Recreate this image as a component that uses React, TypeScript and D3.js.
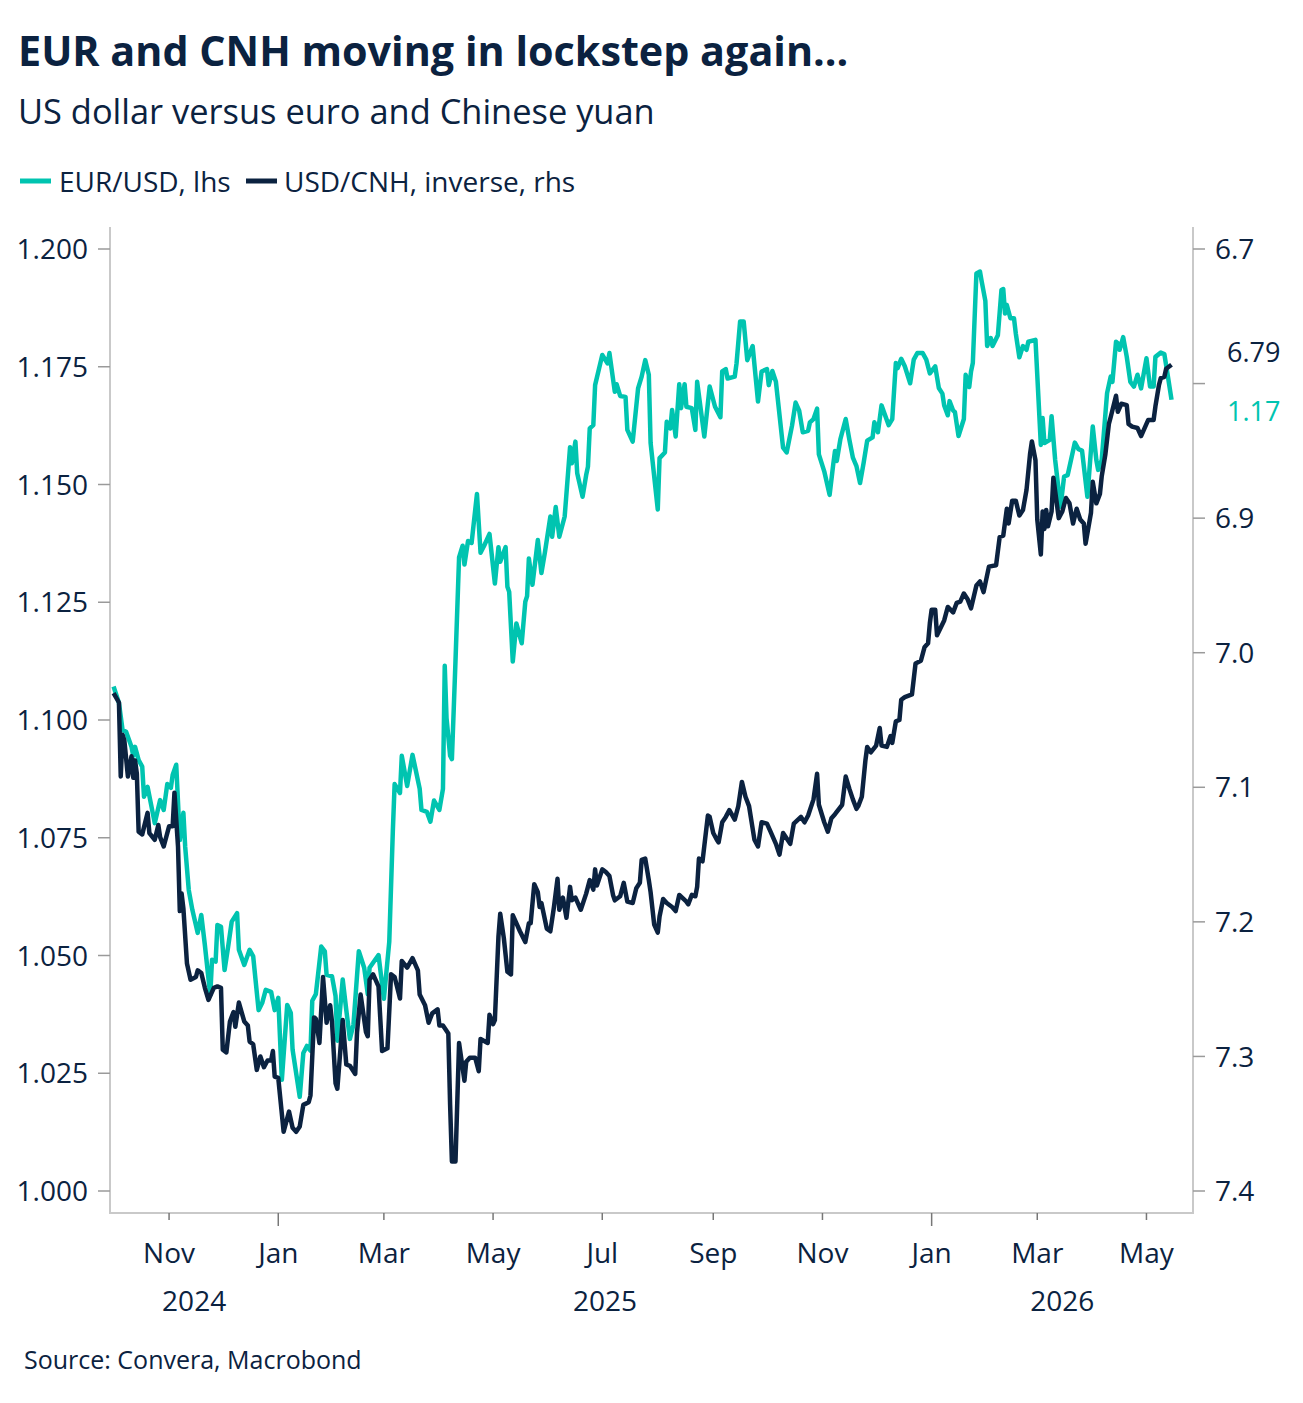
import React from "react";
import * as d3 from "d3";

const W = 1303;
const H = 1403;

const navy = "#0b2240";
const teal = "#00c4b0";
const grey = "#c9c9c9";
const font = "'Open Sans', 'Noto Sans', sans-serif";

const title = "EUR and CNH moving in lockstep again...";
const subtitle = "US dollar versus euro and Chinese yuan";
const legendLabels = ["EUR/USD, lhs", "USD/CNH, inverse, rhs"];
const source = "Source: Convera, Macrobond";

const leftTicks = [1.0, 1.025, 1.05, 1.075, 1.1, 1.125, 1.15, 1.175, 1.2];
const rightTicks = [6.7, 6.8, 6.9, 7.0, 7.1, 7.2, 7.3, 7.4];
const monthTicks = [
  "2024-11-01", "2025-01-01", "2025-03-01", "2025-05-01", "2025-07-01",
  "2025-09-01", "2025-11-01", "2026-01-01", "2026-03-01", "2026-05-01",
];
const years = [2024, 2025, 2026];

// EUR/USD, left axis
const eurusd: [string, number][] = [
  ["2024-10-01", 1.1071], ["2024-10-04", 1.1036], ["2024-10-06", 1.0979], ["2024-10-08", 1.0975],
  ["2024-10-11", 1.0943], ["2024-10-12", 1.0924], ["2024-10-13", 1.0943], ["2024-10-15", 1.0915],
  ["2024-10-17", 1.0901], ["2024-10-18", 1.0837], ["2024-10-20", 1.0858], ["2024-10-24", 1.0781],
  ["2024-10-27", 1.083], ["2024-10-29", 1.0809], ["2024-10-31", 1.0864], ["2024-11-02", 1.0856],
  ["2024-11-03", 1.0883], ["2024-11-05", 1.0905], ["2024-11-07", 1.0745], ["2024-11-09", 1.0803],
  ["2024-11-10", 1.0731], ["2024-11-12", 1.0639], ["2024-11-14", 1.0597], ["2024-11-17", 1.0548],
  ["2024-11-19", 1.0586], ["2024-11-21", 1.0522], ["2024-11-24", 1.0416], ["2024-11-25", 1.0491],
  ["2024-11-27", 1.0487], ["2024-11-28", 1.0565], ["2024-11-30", 1.0561], ["2024-12-02", 1.0469],
  ["2024-12-04", 1.0519], ["2024-12-06", 1.0572], ["2024-12-09", 1.059], ["2024-12-10", 1.0512],
  ["2024-12-13", 1.048], ["2024-12-16", 1.0512], ["2024-12-18", 1.0498], ["2024-12-21", 1.0384],
  ["2024-12-23", 1.0399], ["2024-12-25", 1.0427], ["2024-12-28", 1.0423], ["2024-12-30", 1.0384],
  ["2025-01-01", 1.041], ["2025-01-03", 1.0236], ["2025-01-06", 1.0395], ["2025-01-08", 1.0378],
  ["2025-01-09", 1.03], ["2025-01-13", 1.02], ["2025-01-15", 1.0293], ["2025-01-17", 1.0308],
  ["2025-01-19", 1.0298], ["2025-01-20", 1.0404], ["2025-01-22", 1.0418], ["2025-01-25", 1.0519],
  ["2025-01-27", 1.0509], ["2025-01-28", 1.0459], ["2025-01-31", 1.0456], ["2025-02-02", 1.0414],
  ["2025-02-03", 1.0319], ["2025-02-06", 1.0449], ["2025-02-08", 1.0384], ["2025-02-10", 1.0323],
  ["2025-02-12", 1.0353], ["2025-02-15", 1.0509], ["2025-02-18", 1.0474], ["2025-02-20", 1.0418],
  ["2025-02-21", 1.0474], ["2025-02-26", 1.0501], ["2025-03-01", 1.0408], ["2025-03-04", 1.0529],
  ["2025-03-06", 1.0764], ["2025-03-07", 1.0864], ["2025-03-10", 1.0845], ["2025-03-11", 1.0924],
  ["2025-03-14", 1.086], ["2025-03-17", 1.0926], ["2025-03-21", 1.0854], ["2025-03-22", 1.0809],
  ["2025-03-25", 1.0805], ["2025-03-27", 1.0784], ["2025-03-29", 1.0829], ["2025-04-01", 1.0809],
  ["2025-04-03", 1.0854], ["2025-04-04", 1.1115], ["2025-04-05", 1.1004], ["2025-04-07", 1.0924],
  ["2025-04-08", 1.0917], ["2025-04-10", 1.1125], ["2025-04-12", 1.1345], ["2025-04-14", 1.137],
  ["2025-04-15", 1.133], ["2025-04-17", 1.138], ["2025-04-19", 1.1376], ["2025-04-22", 1.148],
  ["2025-04-24", 1.1355], ["2025-04-26", 1.137], ["2025-04-29", 1.1395], ["2025-05-02", 1.129],
  ["2025-05-04", 1.1367], ["2025-05-05", 1.1336], ["2025-05-08", 1.1367], ["2025-05-09", 1.1283],
  ["2025-05-10", 1.1272], ["2025-05-12", 1.1124], ["2025-05-14", 1.1205], ["2025-05-17", 1.1163],
  ["2025-05-19", 1.1251], ["2025-05-20", 1.1263], ["2025-05-21", 1.1343], ["2025-05-23", 1.1287],
  ["2025-05-26", 1.1382], ["2025-05-28", 1.1312], ["2025-05-30", 1.1357], ["2025-06-02", 1.1432],
  ["2025-06-03", 1.1389], ["2025-06-05", 1.1452], ["2025-06-07", 1.1389], ["2025-06-10", 1.1432],
  ["2025-06-13", 1.1579], ["2025-06-14", 1.1545], ["2025-06-16", 1.1591], ["2025-06-17", 1.1524],
  ["2025-06-20", 1.1474], ["2025-06-22", 1.152], ["2025-06-23", 1.1538], ["2025-06-24", 1.1619],
  ["2025-06-26", 1.1626], ["2025-06-27", 1.1711], ["2025-07-01", 1.1775], ["2025-07-04", 1.1757],
  ["2025-07-05", 1.1779], ["2025-07-08", 1.1697], ["2025-07-09", 1.1713], ["2025-07-11", 1.1688],
  ["2025-07-14", 1.1686], ["2025-07-15", 1.1616], ["2025-07-18", 1.1591], ["2025-07-21", 1.1704],
  ["2025-07-23", 1.1729], ["2025-07-25", 1.1764], ["2025-07-27", 1.1733], ["2025-07-28", 1.1588],
  ["2025-08-01", 1.1447], ["2025-08-02", 1.1556], ["2025-08-05", 1.1568], ["2025-08-06", 1.1633],
  ["2025-08-08", 1.1619], ["2025-08-09", 1.1658], ["2025-08-11", 1.1602], ["2025-08-13", 1.1713],
  ["2025-08-14", 1.1662], ["2025-08-16", 1.1713], ["2025-08-17", 1.1665], ["2025-08-20", 1.1662],
  ["2025-08-22", 1.1616], ["2025-08-23", 1.1718], ["2025-08-27", 1.1602], ["2025-08-30", 1.1708],
  ["2025-09-02", 1.1665], ["2025-09-05", 1.1643], ["2025-09-06", 1.174], ["2025-09-08", 1.1745],
  ["2025-09-09", 1.1725], ["2025-09-13", 1.1729], ["2025-09-14", 1.1757], ["2025-09-16", 1.1846],
  ["2025-09-18", 1.1846], ["2025-09-20", 1.1764], ["2025-09-23", 1.1794], ["2025-09-26", 1.1676],
  ["2025-09-28", 1.174], ["2025-10-01", 1.1745], ["2025-10-02", 1.1711], ["2025-10-04", 1.1741],
  ["2025-10-06", 1.1718], ["2025-10-10", 1.1578], ["2025-10-12", 1.1568], ["2025-10-15", 1.1625],
  ["2025-10-17", 1.1674], ["2025-10-19", 1.1657], ["2025-10-21", 1.1611], ["2025-10-24", 1.1614],
  ["2025-10-25", 1.1632], ["2025-10-27", 1.1639], ["2025-10-29", 1.1661], ["2025-10-30", 1.1564],
  ["2025-11-02", 1.1528], ["2025-11-05", 1.1478], ["2025-11-07", 1.1542], ["2025-11-08", 1.1571],
  ["2025-11-09", 1.155], ["2025-11-11", 1.1596], ["2025-11-14", 1.1639], ["2025-11-16", 1.1596],
  ["2025-11-18", 1.1557], ["2025-11-20", 1.1539], ["2025-11-22", 1.1503], ["2025-11-24", 1.1546],
  ["2025-11-26", 1.1593], ["2025-11-29", 1.16], ["2025-11-30", 1.1632], ["2025-12-02", 1.1611],
  ["2025-12-04", 1.1668], ["2025-12-08", 1.1626], ["2025-12-10", 1.1639], ["2025-12-12", 1.1758],
  ["2025-12-13", 1.1747], ["2025-12-15", 1.1767], ["2025-12-17", 1.1751], ["2025-12-20", 1.1715],
  ["2025-12-22", 1.1765], ["2025-12-24", 1.1779], ["2025-12-27", 1.1779], ["2025-12-29", 1.1765],
  ["2025-12-31", 1.1736], ["2026-01-03", 1.1751], ["2026-01-05", 1.1705], ["2026-01-07", 1.1693],
  ["2026-01-08", 1.1668], ["2026-01-10", 1.1647], ["2026-01-11", 1.1677], ["2026-01-13", 1.1657],
  ["2026-01-14", 1.1654], ["2026-01-16", 1.1603], ["2026-01-19", 1.1639], ["2026-01-20", 1.1733],
  ["2026-01-22", 1.1707], ["2026-01-23", 1.174], ["2026-01-24", 1.1758], ["2026-01-26", 1.1948],
  ["2026-01-28", 1.1952], ["2026-01-29", 1.193], ["2026-01-31", 1.189], ["2026-02-01", 1.1794],
  ["2026-02-03", 1.1811], ["2026-02-04", 1.1794], ["2026-02-07", 1.1817], ["2026-02-09", 1.1913],
  ["2026-02-10", 1.1915], ["2026-02-11", 1.1863], ["2026-02-12", 1.1881], ["2026-02-14", 1.1853],
  ["2026-02-16", 1.1853], ["2026-02-17", 1.1821], ["2026-02-19", 1.177], ["2026-02-21", 1.1794],
  ["2026-02-23", 1.1786], ["2026-02-24", 1.1803], ["2026-02-28", 1.1807], ["2026-03-03", 1.1584],
  ["2026-03-04", 1.1641], ["2026-03-05", 1.1588], ["2026-03-08", 1.1595], ["2026-03-09", 1.1645],
  ["2026-03-11", 1.1552], ["2026-03-14", 1.1453], ["2026-03-16", 1.1517], ["2026-03-18", 1.152],
  ["2026-03-22", 1.1589], ["2026-03-24", 1.1575], ["2026-03-26", 1.1572], ["2026-03-29", 1.1474],
  ["2026-04-01", 1.1623], ["2026-04-03", 1.1552], ["2026-04-04", 1.1531], ["2026-04-06", 1.1552],
  ["2026-04-09", 1.1694], ["2026-04-11", 1.1729], ["2026-04-12", 1.1718], ["2026-04-14", 1.1803],
  ["2026-04-15", 1.18], ["2026-04-16", 1.1786], ["2026-04-18", 1.1813], ["2026-04-20", 1.1771],
  ["2026-04-22", 1.1718], ["2026-04-24", 1.1708], ["2026-04-26", 1.1733], ["2026-04-28", 1.1704],
  ["2026-05-01", 1.1768], ["2026-05-03", 1.1708], ["2026-05-05", 1.1708], ["2026-05-06", 1.1771],
  ["2026-05-09", 1.178], ["2026-05-11", 1.1777], ["2026-05-13", 1.1729], ["2026-05-15", 1.168],
];

// USD/CNH, right axis (inverted)
const usdcnh: [string, number][] = [
  ["2024-10-01", 7.03], ["2024-10-04", 7.037], ["2024-10-05", 7.092], ["2024-10-06", 7.061],
  ["2024-10-07", 7.065], ["2024-10-09", 7.092], ["2024-10-11", 7.077], ["2024-10-12", 7.093],
  ["2024-10-13", 7.08], ["2024-10-14", 7.09], ["2024-10-15", 7.133], ["2024-10-17", 7.135],
  ["2024-10-20", 7.119], ["2024-10-21", 7.134], ["2024-10-24", 7.139], ["2024-10-26", 7.128],
  ["2024-10-27", 7.137], ["2024-10-29", 7.144], ["2024-11-01", 7.129], ["2024-11-03", 7.129],
  ["2024-11-04", 7.104], ["2024-11-06", 7.144], ["2024-11-07", 7.192], ["2024-11-08", 7.179],
  ["2024-11-09", 7.19], ["2024-11-11", 7.231], ["2024-11-13", 7.243], ["2024-11-16", 7.241],
  ["2024-11-17", 7.236], ["2024-11-19", 7.238], ["2024-11-21", 7.249], ["2024-11-23", 7.258],
  ["2024-11-26", 7.249], ["2024-11-28", 7.248], ["2024-11-30", 7.249], ["2024-12-01", 7.295],
  ["2024-12-03", 7.297], ["2024-12-05", 7.274], ["2024-12-07", 7.267], ["2024-12-08", 7.278],
  ["2024-12-10", 7.26], ["2024-12-13", 7.274], ["2024-12-15", 7.277], ["2024-12-16", 7.289],
  ["2024-12-18", 7.291], ["2024-12-20", 7.31], ["2024-12-22", 7.3], ["2024-12-24", 7.308],
  ["2024-12-26", 7.303], ["2024-12-28", 7.303], ["2024-12-29", 7.296], ["2024-12-30", 7.315],
  ["2025-01-01", 7.316], ["2025-01-04", 7.356], ["2025-01-07", 7.341], ["2025-01-09", 7.353],
  ["2025-01-11", 7.356], ["2025-01-13", 7.352], ["2025-01-15", 7.336], ["2025-01-18", 7.334],
  ["2025-01-19", 7.329], ["2025-01-21", 7.271], ["2025-01-22", 7.272], ["2025-01-24", 7.29],
  ["2025-01-26", 7.241], ["2025-01-28", 7.275], ["2025-01-30", 7.262], ["2025-01-31", 7.274],
  ["2025-02-02", 7.32], ["2025-02-03", 7.324], ["2025-02-06", 7.273], ["2025-02-08", 7.306],
  ["2025-02-10", 7.307], ["2025-02-13", 7.313], ["2025-02-14", 7.282], ["2025-02-16", 7.254],
  ["2025-02-19", 7.282], ["2025-02-20", 7.285], ["2025-02-21", 7.243], ["2025-02-23", 7.239],
  ["2025-02-26", 7.248], ["2025-02-28", 7.296], ["2025-03-03", 7.294], ["2025-03-05", 7.239],
  ["2025-03-07", 7.241], ["2025-03-10", 7.257], ["2025-03-11", 7.229], ["2025-03-14", 7.234],
  ["2025-03-17", 7.227], ["2025-03-20", 7.236], ["2025-03-21", 7.254], ["2025-03-24", 7.262],
  ["2025-03-26", 7.275], ["2025-03-28", 7.268], ["2025-03-31", 7.265], ["2025-04-01", 7.277],
  ["2025-04-03", 7.277], ["2025-04-06", 7.283], ["2025-04-07", 7.336], ["2025-04-08", 7.378],
  ["2025-04-10", 7.378], ["2025-04-12", 7.29], ["2025-04-15", 7.318], ["2025-04-16", 7.304],
  ["2025-04-18", 7.301], ["2025-04-21", 7.301], ["2025-04-23", 7.311], ["2025-04-24", 7.287],
  ["2025-04-28", 7.29], ["2025-04-29", 7.269], ["2025-05-01", 7.276], ["2025-05-02", 7.273],
  ["2025-05-04", 7.211], ["2025-05-05", 7.194], ["2025-05-07", 7.212], ["2025-05-09", 7.237],
  ["2025-05-11", 7.239], ["2025-05-12", 7.195], ["2025-05-14", 7.201], ["2025-05-16", 7.207],
  ["2025-05-19", 7.215], ["2025-05-21", 7.201], ["2025-05-22", 7.201], ["2025-05-24", 7.172],
  ["2025-05-26", 7.178], ["2025-05-27", 7.189], ["2025-05-28", 7.186], ["2025-05-31", 7.205],
  ["2025-06-02", 7.207], ["2025-06-04", 7.189], ["2025-06-06", 7.168], ["2025-06-07", 7.191],
  ["2025-06-09", 7.182], ["2025-06-11", 7.197], ["2025-06-13", 7.174], ["2025-06-14", 7.184],
  ["2025-06-16", 7.182], ["2025-06-19", 7.191], ["2025-06-22", 7.179], ["2025-06-24", 7.169],
  ["2025-06-26", 7.176], ["2025-06-27", 7.161], ["2025-06-28", 7.173], ["2025-07-01", 7.161],
  ["2025-07-03", 7.163], ["2025-07-05", 7.166], ["2025-07-07", 7.18], ["2025-07-08", 7.184],
  ["2025-07-11", 7.181], ["2025-07-13", 7.171], ["2025-07-15", 7.185], ["2025-07-18", 7.186],
  ["2025-07-20", 7.175], ["2025-07-22", 7.171], ["2025-07-23", 7.154], ["2025-07-25", 7.153],
  ["2025-07-27", 7.169], ["2025-07-28", 7.178], ["2025-07-30", 7.202], ["2025-08-01", 7.208],
  ["2025-08-02", 7.196], ["2025-08-04", 7.183], ["2025-08-06", 7.186], ["2025-08-09", 7.189],
  ["2025-08-11", 7.192], ["2025-08-13", 7.18], ["2025-08-17", 7.185], ["2025-08-18", 7.187],
  ["2025-08-20", 7.18], ["2025-08-22", 7.181], ["2025-08-23", 7.174], ["2025-08-24", 7.153],
  ["2025-08-26", 7.155], ["2025-08-29", 7.121], ["2025-08-30", 7.122], ["2025-09-01", 7.134],
  ["2025-09-03", 7.139], ["2025-09-04", 7.141], ["2025-09-06", 7.126], ["2025-09-08", 7.122],
  ["2025-09-10", 7.117], ["2025-09-13", 7.124], ["2025-09-15", 7.114], ["2025-09-17", 7.096],
  ["2025-09-19", 7.107], ["2025-09-21", 7.114], ["2025-09-24", 7.139], ["2025-09-26", 7.144],
  ["2025-09-28", 7.126], ["2025-10-01", 7.127], ["2025-10-03", 7.133], ["2025-10-06", 7.142],
  ["2025-10-08", 7.15], ["2025-10-10", 7.134], ["2025-10-14", 7.142], ["2025-10-16", 7.127],
  ["2025-10-20", 7.122], ["2025-10-22", 7.126], ["2025-10-24", 7.121], ["2025-10-27", 7.109],
  ["2025-10-29", 7.09], ["2025-10-30", 7.113], ["2025-11-02", 7.126], ["2025-11-04", 7.133],
  ["2025-11-06", 7.123], ["2025-11-08", 7.12], ["2025-11-12", 7.113], ["2025-11-14", 7.092],
  ["2025-11-16", 7.101], ["2025-11-18", 7.109], ["2025-11-20", 7.116], ["2025-11-21", 7.114],
  ["2025-11-23", 7.107], ["2025-11-25", 7.08], ["2025-11-26", 7.07], ["2025-11-28", 7.074],
  ["2025-12-01", 7.069], ["2025-12-03", 7.056], ["2025-12-04", 7.069], ["2025-12-07", 7.07],
  ["2025-12-09", 7.062], ["2025-12-10", 7.067], ["2025-12-12", 7.051], ["2025-12-14", 7.05],
  ["2025-12-15", 7.035], ["2025-12-17", 7.033], ["2025-12-21", 7.031], ["2025-12-23", 7.008],
  ["2025-12-26", 7.006], ["2025-12-28", 6.996], ["2025-12-30", 6.993], ["2025-12-31", 6.978],
  ["2026-01-01", 6.968], ["2026-01-03", 6.968], ["2026-01-04", 6.987], ["2026-01-08", 6.976],
  ["2026-01-10", 6.966], ["2026-01-13", 6.97], ["2026-01-15", 6.963], ["2026-01-17", 6.962],
  ["2026-01-19", 6.956], ["2026-01-21", 6.96], ["2026-01-23", 6.967], ["2026-01-26", 6.95],
  ["2026-01-28", 6.947], ["2026-01-30", 6.955], ["2026-02-02", 6.936], ["2026-02-06", 6.935],
  ["2026-02-08", 6.914], ["2026-02-10", 6.913], ["2026-02-12", 6.893], ["2026-02-13", 6.904],
  ["2026-02-15", 6.887], ["2026-02-17", 6.887], ["2026-02-19", 6.898], ["2026-02-21", 6.894],
  ["2026-02-23", 6.879], ["2026-02-25", 6.852], ["2026-02-26", 6.843], ["2026-02-28", 6.857],
  ["2026-03-01", 6.901], ["2026-03-03", 6.927], ["2026-03-04", 6.895], ["2026-03-05", 6.908],
  ["2026-03-06", 6.894], ["2026-03-07", 6.906], ["2026-03-09", 6.895], ["2026-03-10", 6.87],
  ["2026-03-11", 6.88], ["2026-03-13", 6.9], ["2026-03-15", 6.895], ["2026-03-17", 6.885],
  ["2026-03-19", 6.889], ["2026-03-21", 6.904], ["2026-03-23", 6.893], ["2026-03-25", 6.901],
  ["2026-03-27", 6.904], ["2026-03-28", 6.919], ["2026-03-31", 6.896], ["2026-04-01", 6.873],
  ["2026-04-03", 6.889], ["2026-04-05", 6.882], ["2026-04-06", 6.869], ["2026-04-08", 6.853],
  ["2026-04-10", 6.83], ["2026-04-11", 6.825], ["2026-04-14", 6.809], ["2026-04-15", 6.821],
  ["2026-04-17", 6.815], ["2026-04-20", 6.816], ["2026-04-21", 6.83], ["2026-04-23", 6.832],
  ["2026-04-26", 6.833], ["2026-04-28", 6.839], ["2026-05-01", 6.83], ["2026-05-02", 6.827],
  ["2026-05-05", 6.827], ["2026-05-06", 6.817], ["2026-05-08", 6.801], ["2026-05-09", 6.796],
  ["2026-05-11", 6.795], ["2026-05-12", 6.789], ["2026-05-15", 6.786],
];

const parse = d3.utcParse("%Y-%m-%d");
const day = (s: string) => parse(s) as Date;

// plot frame
const left = 110;
const right = 1193;
const frameTop = 227;
const frameBottom = 1213;

const x = d3.scaleUtc().domain([day("2024-09-29"), day("2026-05-27")]).range([left, right]);
const yL = d3.scaleLinear().domain([1.0, 1.2]).range([1191, 249]);
const yR = d3.scaleLinear().domain([7.4, 6.7]).range([1191, 249]);

const lineL = d3.line<[string, number]>().x(d => x(day(d[0]))).y(d => yL(d[1]));
const lineR = d3.line<[string, number]>().x(d => x(day(d[0]))).y(d => yR(d[1]));

const fmtMonth = d3.utcFormat("%b");

export default function App() {
  const lastL = eurusd[eurusd.length - 1][1];
  const lastR = usdcnh[usdcnh.length - 1][1];
  // end-of-line value labels, pushed apart around their midpoint
  const mid = (yL(lastL) + yR(lastR)) / 2;
  const labelR = mid - 30;
  const labelL = mid + 29;
  // right-axis labels that would sit under the value labels are dropped
  const clashes = (y: number) => Math.abs(y - labelR) < 28 || Math.abs(y - labelL) < 28;

  const [d0, d1] = x.domain();
  const yearSpans = years.map(yr => {
    const a = new Date(Date.UTC(yr, 0, 1));
    const b = new Date(Date.UTC(yr + 1, 0, 1));
    const s = a < d0 ? d0 : a;
    const e = b > d1 ? d1 : b;
    return { yr, cx: (x(s) + x(e)) / 2 };
  });

  return (
    <>
      <style>{`body{margin:0}`}</style>
      <svg width={W} height={H} style={{ display: "block", background: "#fff" }} fontFamily={font}>
        <text x={18} y={66} fontSize={41.3} fontWeight={700} fill={navy}>{title}</text>
        <text x={18} y={124} fontSize={34.4} fill={navy}>{subtitle}</text>

        <g>
          <line x1={20} x2={51} y1={181} y2={181} stroke={teal} strokeWidth={5} />
          <text x={59} y={192} fontSize={28} fill={navy}>{legendLabels[0]}</text>
          <line x1={246} x2={277} y1={181} y2={181} stroke={navy} strokeWidth={5} />
          <text x={284} y={192} fontSize={28} fill={navy}>{legendLabels[1]}</text>
        </g>

        {/* frame */}
        <path
          d={`M${left},${frameTop}V${frameBottom}H${right}V${frameTop}`}
          fill="none"
          stroke={grey}
          strokeWidth={2}
        />

        {/* left axis */}
        {leftTicks.map(t => (
          <g key={"l" + t}>
            <line x1={left - 12} x2={left} y1={yL(t)} y2={yL(t)} stroke="#9a9a9a" strokeWidth={1.5} />
            <text x={88} y={yL(t)} dy="0.36em" textAnchor="end" fontSize={28} fill={navy}>
              {d3.format(".3f")(t)}
            </text>
          </g>
        ))}

        {/* right axis */}
        {rightTicks.map(t => (
          <g key={"r" + t}>
            <line x1={right} x2={right + 12} y1={yR(t)} y2={yR(t)} stroke="#9a9a9a" strokeWidth={1.5} />
            {!clashes(yR(t)) && (
              <text x={1215} y={yR(t)} dy="0.36em" fontSize={28} fill={navy}>
                {d3.format(".1f")(t)}
              </text>
            )}
          </g>
        ))}

        {/* x axis */}
        {monthTicks.map(m => {
          const d = day(m);
          const jan = d.getUTCMonth() === 0;
          return (
            <g key={m}>
              <line
                x1={x(d)}
                x2={x(d)}
                y1={frameBottom}
                y2={frameBottom + (jan ? 13 : 7)}
                stroke="#777"
                strokeWidth={1.5}
              />
              <text x={x(d)} y={1263} textAnchor="middle" fontSize={28} fill={navy}>
                {fmtMonth(d)}
              </text>
            </g>
          );
        })}
        {yearSpans.map(s => (
          <text key={s.yr} x={s.cx} y={1311} textAnchor="middle" fontSize={28} fill={navy}>
            {s.yr}
          </text>
        ))}

        {/* series */}
        <path d={lineL(eurusd) ?? ""} fill="none" stroke={teal} strokeWidth={4.5} strokeLinejoin="round" />
        <path d={lineR(usdcnh) ?? ""} fill="none" stroke={navy} strokeWidth={4.5} strokeLinejoin="round" />

        {/* last values */}
        <text x={1227} y={labelR} dy="0.36em" fontSize={27} fill={navy}>{lastR.toFixed(2)}</text>
        <text x={1227} y={labelL} dy="0.36em" fontSize={27} fill={teal}>{lastL.toFixed(2)}</text>

        <text x={24} y={1369} fontSize={25} fill={navy}>{source}</text>
      </svg>
    </>
  );
}
